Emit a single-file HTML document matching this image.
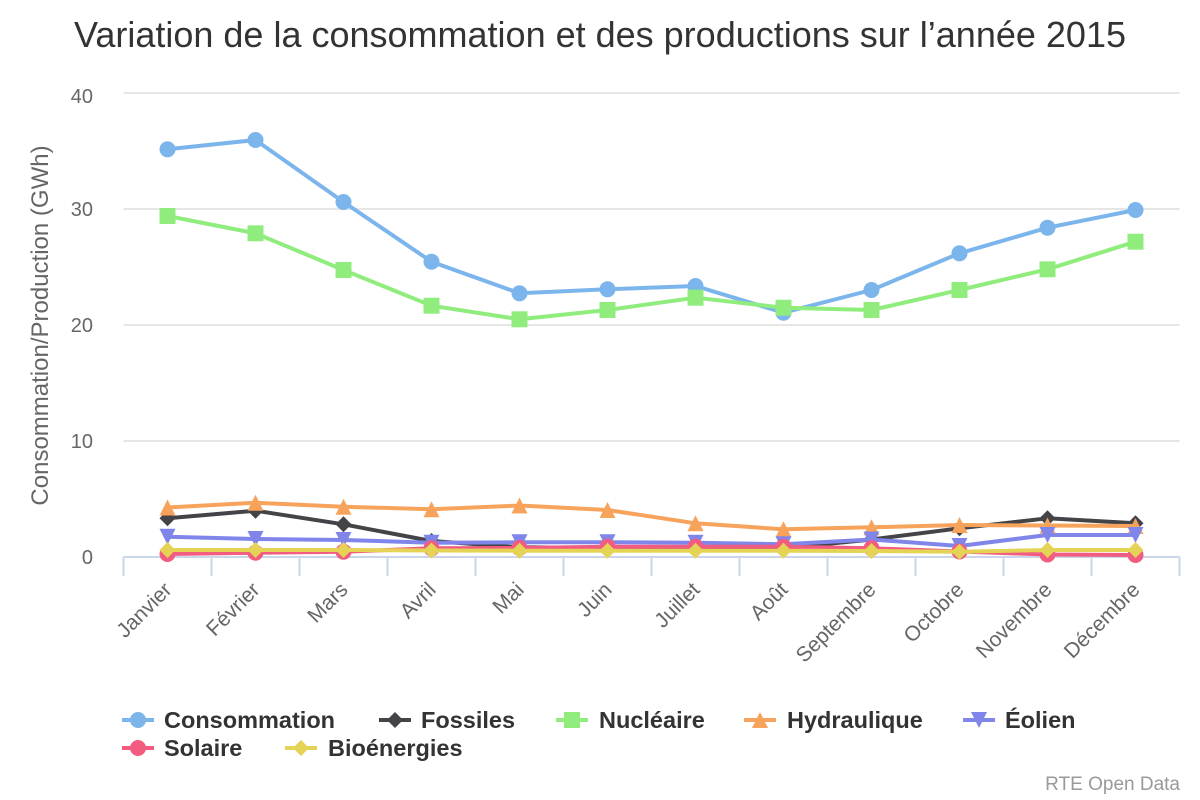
<!DOCTYPE html>
<html>
<head>
<meta charset="utf-8">
<style>
  html, body { margin: 0; padding: 0; background: #ffffff; }
  svg { display: block; font-family: "Liberation Sans", Arial, sans-serif; }
</style>
</head>
<body>
<svg width="1200" height="800" viewBox="0 0 1200 800" xmlns="http://www.w3.org/2000/svg">
  <defs>
    <circle id="mc" cx="0" cy="0" r="8"/>
    <rect id="ms" x="-8" y="-8" width="16" height="16"/>
    <path id="mt" d="M0,-8 L8,8 L-8,8 Z"/>
    <path id="mtd" d="M-8,-8 L8,-8 L0,8 Z"/>
    <path id="md" d="M0,-8 L8,0 L0,8 L-8,0 Z"/>
  </defs>

  <rect x="0" y="0" width="1200" height="800" fill="#ffffff"/>

  <!-- Title -->
  <text x="600" y="47" text-anchor="middle" font-size="36" fill="#333333">Variation de la consommation et des productions sur l’année 2015</text>

  <!-- Grid lines -->
  <g stroke="#e6e6e6" stroke-width="2">
    <line x1="123.5" y1="93" x2="1179.5" y2="93"/>
    <line x1="123.5" y1="209" x2="1179.5" y2="209"/>
    <line x1="123.5" y1="325" x2="1179.5" y2="325"/>
    <line x1="123.5" y1="441" x2="1179.5" y2="441"/>
  </g>

  <!-- X axis line + ticks -->
  <g stroke="#ccd6eb" stroke-width="2">
    <line x1="123.5" y1="557" x2="1179.5" y2="557"/>
    <line x1="123.5" y1="557" x2="123.5" y2="576"/>
    <line x1="211.5" y1="557" x2="211.5" y2="576"/>
    <line x1="299.5" y1="557" x2="299.5" y2="576"/>
    <line x1="387.5" y1="557" x2="387.5" y2="576"/>
    <line x1="475.5" y1="557" x2="475.5" y2="576"/>
    <line x1="563.5" y1="557" x2="563.5" y2="576"/>
    <line x1="651.5" y1="557" x2="651.5" y2="576"/>
    <line x1="739.5" y1="557" x2="739.5" y2="576"/>
    <line x1="827.5" y1="557" x2="827.5" y2="576"/>
    <line x1="915.5" y1="557" x2="915.5" y2="576"/>
    <line x1="1003.5" y1="557" x2="1003.5" y2="576"/>
    <line x1="1091.5" y1="557" x2="1091.5" y2="576"/>
    <line x1="1179.5" y1="557" x2="1179.5" y2="576"/>
  </g>

  <!-- Y axis labels -->
  <g font-size="20" fill="#666666" text-anchor="end">
    <text x="93" y="103">40</text>
    <text x="93" y="216">30</text>
    <text x="93" y="332">20</text>
    <text x="93" y="448">10</text>
    <text x="93" y="564">0</text>
  </g>

  <!-- Y axis title -->
  <text transform="translate(48,325.5) rotate(-90)" text-anchor="middle" font-size="24" fill="#666666">Consommation/Production (GWh)</text>

  <!-- X axis labels -->
  <g font-size="21" fill="#666666" text-anchor="end">
    <text transform="translate(173,591) rotate(-45)">Janvier</text>
    <text transform="translate(261,591) rotate(-45)">Février</text>
    <text transform="translate(349,591) rotate(-45)">Mars</text>
    <text transform="translate(437,591) rotate(-45)">Avril</text>
    <text transform="translate(525,591) rotate(-45)">Mai</text>
    <text transform="translate(613,591) rotate(-45)">Juin</text>
    <text transform="translate(701,591) rotate(-45)">Juillet</text>
    <text transform="translate(789,591) rotate(-45)">Août</text>
    <text transform="translate(877,591) rotate(-45)">Septembre</text>
    <text transform="translate(965,591) rotate(-45)">Octobre</text>
    <text transform="translate(1053,591) rotate(-45)">Novembre</text>
    <text transform="translate(1141,591) rotate(-45)">Décembre</text>
  </g>

  <!-- Series: Consommation -->
  <g fill="#7cb5ec">
    <polyline fill="none" stroke="#7cb5ec" stroke-width="4" stroke-linejoin="round" stroke-linecap="round"
      points="167.5,149.3 255.5,140 343.5,202 431.5,261.7 519.5,293.3 607.5,289.3 695.5,286 783.5,312.7 871.5,290 959.5,253.3 1047.5,227.7 1135.5,210"/>
    <use href="#mc" x="167.5" y="149.3"/><use href="#mc" x="255.5" y="140"/><use href="#mc" x="343.5" y="202"/>
    <use href="#mc" x="431.5" y="261.7"/><use href="#mc" x="519.5" y="293.3"/><use href="#mc" x="607.5" y="289.3"/>
    <use href="#mc" x="695.5" y="286"/><use href="#mc" x="783.5" y="312.7"/><use href="#mc" x="871.5" y="290"/>
    <use href="#mc" x="959.5" y="253.3"/><use href="#mc" x="1047.5" y="227.7"/><use href="#mc" x="1135.5" y="210"/>
  </g>

  <!-- Series: Fossiles -->
  <g fill="#434348">
    <polyline fill="none" stroke="#434348" stroke-width="4" stroke-linejoin="round" stroke-linecap="round"
      points="167.5,518.3 255.5,510.7 343.5,524.3 431.5,541 519.5,547.3 607.5,548 695.5,548 783.5,548.3 871.5,539.5 959.5,528.3 1047.5,518.3 1135.5,523.3"/>
    <use href="#md" x="167.5" y="518.3"/><use href="#md" x="255.5" y="510.7"/><use href="#md" x="343.5" y="524.3"/>
    <use href="#md" x="431.5" y="541"/><use href="#md" x="519.5" y="547.3"/><use href="#md" x="607.5" y="548"/>
    <use href="#md" x="695.5" y="548"/><use href="#md" x="783.5" y="548.3"/><use href="#md" x="871.5" y="539.5"/>
    <use href="#md" x="959.5" y="528.3"/><use href="#md" x="1047.5" y="518.3"/><use href="#md" x="1135.5" y="523.3"/>
  </g>

  <!-- Series: Nucléaire -->
  <g fill="#90ed7d">
    <polyline fill="none" stroke="#90ed7d" stroke-width="4" stroke-linejoin="round" stroke-linecap="round"
      points="167.5,216 255.5,233.3 343.5,270 431.5,305.7 519.5,319.3 607.5,310 695.5,297.7 783.5,307.7 871.5,310 959.5,290 1047.5,269.3 1135.5,241.7"/>
    <use href="#ms" x="167.5" y="216"/><use href="#ms" x="255.5" y="233.3"/><use href="#ms" x="343.5" y="270"/>
    <use href="#ms" x="431.5" y="305.7"/><use href="#ms" x="519.5" y="319.3"/><use href="#ms" x="607.5" y="310"/>
    <use href="#ms" x="695.5" y="297.7"/><use href="#ms" x="783.5" y="307.7"/><use href="#ms" x="871.5" y="310"/>
    <use href="#ms" x="959.5" y="290"/><use href="#ms" x="1047.5" y="269.3"/><use href="#ms" x="1135.5" y="241.7"/>
  </g>

  <!-- Series: Hydraulique -->
  <g fill="#f7a35c">
    <polyline fill="none" stroke="#f7a35c" stroke-width="4" stroke-linejoin="round" stroke-linecap="round"
      points="167.5,507.5 255.5,502.7 343.5,506.7 431.5,509.3 519.5,505.5 607.5,510 695.5,523.3 783.5,529.3 871.5,527.3 959.5,525 1047.5,525.5 1135.5,526"/>
    <use href="#mt" x="167.5" y="507.5"/><use href="#mt" x="255.5" y="502.7"/><use href="#mt" x="343.5" y="506.7"/>
    <use href="#mt" x="431.5" y="509.3"/><use href="#mt" x="519.5" y="505.5"/><use href="#mt" x="607.5" y="510"/>
    <use href="#mt" x="695.5" y="523.3"/><use href="#mt" x="783.5" y="529.3"/><use href="#mt" x="871.5" y="527.3"/>
    <use href="#mt" x="959.5" y="525"/><use href="#mt" x="1047.5" y="525.5"/><use href="#mt" x="1135.5" y="526"/>
  </g>

  <!-- Series: Éolien -->
  <g fill="#8085e9">
    <polyline fill="none" stroke="#8085e9" stroke-width="4" stroke-linejoin="round" stroke-linecap="round"
      points="167.5,536.7 255.5,539 343.5,540 431.5,542.7 519.5,542.3 607.5,542.3 695.5,542.7 783.5,544.3 871.5,539.5 959.5,546 1047.5,535 1135.5,535"/>
    <use href="#mtd" x="167.5" y="536.7"/><use href="#mtd" x="255.5" y="539"/><use href="#mtd" x="343.5" y="540"/>
    <use href="#mtd" x="431.5" y="542.7"/><use href="#mtd" x="519.5" y="542.3"/><use href="#mtd" x="607.5" y="542.3"/>
    <use href="#mtd" x="695.5" y="542.7"/><use href="#mtd" x="783.5" y="544.3"/><use href="#mtd" x="871.5" y="539.5"/>
    <use href="#mtd" x="959.5" y="546"/><use href="#mtd" x="1047.5" y="535"/><use href="#mtd" x="1135.5" y="535"/>
  </g>

  <!-- Series: Solaire -->
  <g fill="#f15c80">
    <polyline fill="none" stroke="#f15c80" stroke-width="4" stroke-linejoin="round" stroke-linecap="round"
      points="167.5,554 255.5,552.7 343.5,551.7 431.5,548.3 519.5,548 607.5,546.7 695.5,546.7 783.5,546.7 871.5,548.3 959.5,551.5 1047.5,554.5 1135.5,555"/>
    <use href="#mc" x="167.5" y="554"/><use href="#mc" x="255.5" y="552.7"/><use href="#mc" x="343.5" y="551.7"/>
    <use href="#mc" x="431.5" y="548.3"/><use href="#mc" x="519.5" y="548"/><use href="#mc" x="607.5" y="546.7"/>
    <use href="#mc" x="695.5" y="546.7"/><use href="#mc" x="783.5" y="546.7"/><use href="#mc" x="871.5" y="548.3"/>
    <use href="#mc" x="959.5" y="551.5"/><use href="#mc" x="1047.5" y="554.5"/><use href="#mc" x="1135.5" y="555"/>
  </g>

  <!-- Series: Bioénergies -->
  <g fill="#e4d354">
    <polyline fill="none" stroke="#e4d354" stroke-width="4" stroke-linejoin="round" stroke-linecap="round"
      points="167.5,550 255.5,550 343.5,550 431.5,550.5 519.5,550.7 607.5,550.7 695.5,550.7 783.5,550.7 871.5,551 959.5,551.7 1047.5,550 1135.5,550"/>
    <use href="#md" x="167.5" y="550"/><use href="#md" x="255.5" y="550"/><use href="#md" x="343.5" y="550"/>
    <use href="#md" x="431.5" y="550.5"/><use href="#md" x="519.5" y="550.7"/><use href="#md" x="607.5" y="550.7"/>
    <use href="#md" x="695.5" y="550.7"/><use href="#md" x="783.5" y="550.7"/><use href="#md" x="871.5" y="551"/>
    <use href="#md" x="959.5" y="551.7"/><use href="#md" x="1047.5" y="550"/><use href="#md" x="1135.5" y="550"/>
  </g>

  <!-- Legend -->
  <g font-size="23.5" font-weight="bold" fill="#333333">
    <!-- Row 1 -->
    <line x1="122" y1="720" x2="154" y2="720" stroke="#7cb5ec" stroke-width="4"/>
    <use href="#mc" x="138" y="720" fill="#7cb5ec"/>
    <text x="164" y="728">Consommation</text>

    <line x1="379" y1="720" x2="411" y2="720" stroke="#434348" stroke-width="4"/>
    <use href="#md" x="395" y="720" fill="#434348"/>
    <text x="421" y="728">Fossiles</text>

    <line x1="556" y1="720" x2="588" y2="720" stroke="#90ed7d" stroke-width="4"/>
    <use href="#ms" x="572" y="720" fill="#90ed7d"/>
    <text x="599" y="728">Nucléaire</text>

    <line x1="744" y1="720" x2="776" y2="720" stroke="#f7a35c" stroke-width="4"/>
    <use href="#mt" x="760" y="720" fill="#f7a35c"/>
    <text x="787" y="728">Hydraulique</text>

    <line x1="963" y1="720" x2="995" y2="720" stroke="#8085e9" stroke-width="4"/>
    <use href="#mtd" x="979" y="720" fill="#8085e9"/>
    <text x="1005" y="728">Éolien</text>

    <!-- Row 2 -->
    <line x1="122" y1="748" x2="154" y2="748" stroke="#f15c80" stroke-width="4"/>
    <use href="#mc" x="138" y="748" fill="#f15c80"/>
    <text x="164" y="756">Solaire</text>

    <line x1="285" y1="748" x2="317" y2="748" stroke="#e4d354" stroke-width="4"/>
    <use href="#md" x="301" y="748" fill="#e4d354"/>
    <text x="328" y="756">Bioénergies</text>
  </g>

  <!-- Credits -->
  <text x="1180" y="790" text-anchor="end" font-size="19" fill="#999999">RTE Open Data</text>
</svg>
</body>
</html>
